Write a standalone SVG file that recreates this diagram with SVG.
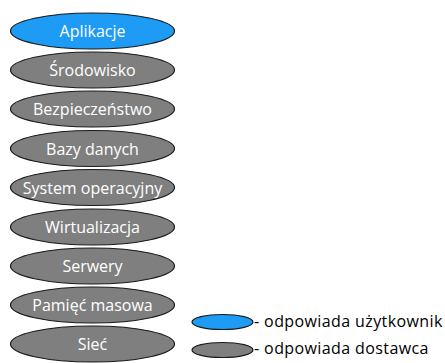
<svg xmlns="http://www.w3.org/2000/svg" width="445" height="363" viewBox="0 0 445 363">
<style>
.n{stroke:#1a1a1a;stroke-width:1.2;fill:#7f7f7f}
.b{fill:#1e9bf5}
.t{font-family:"Open Sans","Noto Sans",sans-serif;font-size:16px;fill:#ffffff;text-anchor:middle;dominant-baseline:central}
.l{font-family:"Open Sans","Noto Sans",sans-serif;font-size:16px;letter-spacing:0.4px;fill:#000000;dominant-baseline:central}
</style>
<rect width="445" height="363" fill="#ffffff"/>
<g id="connectors"></g>
<g id="n1"><ellipse class="n b" cx="92.5" cy="31" rx="82" ry="18"/><text class="t" x="92.5" y="31">Aplikacje</text></g>
<g id="n2"><ellipse class="n" cx="92.5" cy="70" rx="82" ry="18"/><text class="t" x="92.5" y="70">Środowisko</text></g>
<g id="n3"><ellipse class="n" cx="92.5" cy="109" rx="82" ry="18"/><text class="t" x="92.5" y="109">Bezpieczeństwo</text></g>
<g id="n4"><ellipse class="n" cx="92.5" cy="148.5" rx="82" ry="18"/><text class="t" x="92.5" y="148.5">Bazy danych</text></g>
<g id="n5"><ellipse class="n" cx="92.5" cy="187.5" rx="82" ry="18"/><text class="t" x="92.5" y="187.5">System operacyjny</text></g>
<g id="n6"><ellipse class="n" cx="92.5" cy="227" rx="82" ry="18"/><text class="t" x="92.5" y="227">Wirtualizacja</text></g>
<g id="n7"><ellipse class="n" cx="92.5" cy="266" rx="82" ry="18"/><text class="t" x="92.5" y="266">Serwery</text></g>
<g id="n8"><ellipse class="n" cx="92.5" cy="305" rx="82" ry="18"/><text class="t" x="92.5" y="305">Pamięć masowa</text></g>
<g id="n9"><ellipse class="n" cx="92.5" cy="344" rx="82" ry="18"/><text class="t" x="92.5" y="344">Sieć</text></g>
<g id="legend1"><ellipse class="n b" cx="222.5" cy="322" rx="30.5" ry="7.5"/><text class="l" x="254" y="321">- odpowiada użytkownik</text></g>
<g id="legend2"><ellipse class="n" cx="222.5" cy="350" rx="30.5" ry="7.5"/><text class="l" x="254" y="348">- odpowiada dostawca</text></g>
</svg>
